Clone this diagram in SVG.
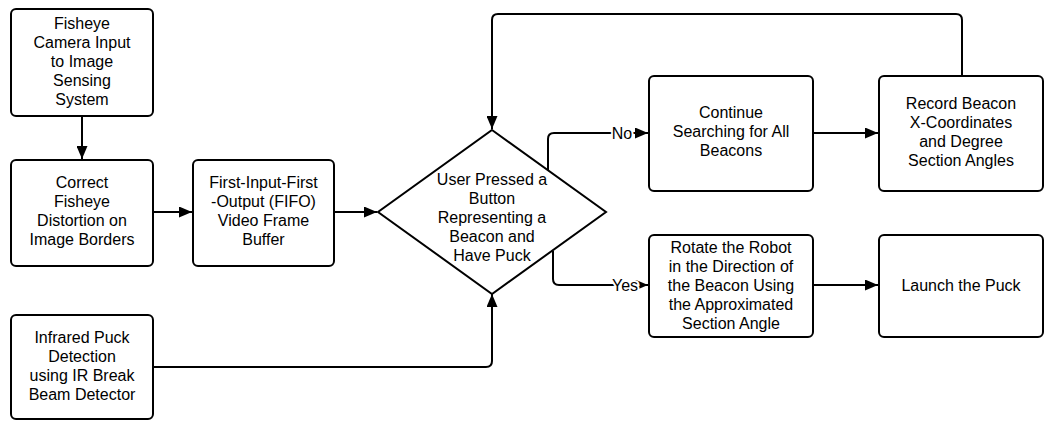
<svg xmlns="http://www.w3.org/2000/svg" width="1045" height="421" viewBox="0 0 1045 421">
<defs>
<marker id="arr" markerUnits="userSpaceOnUse" markerWidth="14" markerHeight="11" refX="13" refY="5.5" orient="auto">
<path d="M0,0 L13,5.5 L0,11 z" fill="#000"/>
</marker>
<style>
.box{fill:#fff;stroke:#000;stroke-width:2}
.t{font-family:"Liberation Sans",Arial,sans-serif;font-size:16px;fill:#000;text-anchor:middle}
.c{fill:none;stroke:#000;stroke-width:2;marker-end:url(#arr)}
.lbl{font-family:"Liberation Sans",Arial,sans-serif;font-size:16px;fill:#000;text-anchor:middle;stroke:#fff;stroke-width:4;paint-order:stroke}
</style>
</defs>
<rect width="1045" height="421" fill="#fff"/>
<g id="connectors">
<path class="c" d="M82,116 V159"/>
<path class="c" d="M153,212 H192"/>
<path class="c" d="M334,212 H377"/>
<path class="c" d="M548,170 V139 Q548,133 554,133 H648"/>
<path class="c" d="M553,251 V279 Q553,285 559,285 H648"/>
<path class="c" d="M813,133 H878"/>
<path class="c" d="M813,285 H878"/>
<path class="c" d="M962,76 V20 Q962,14 956,14 H498 Q492,14 492,20 V129"/>
<path class="c" d="M153,367 H486 Q492,367 492,361 V294"/>
<text class="lbl" x="622" y="139">No</text>
<text class="lbl" x="625" y="291">Yes</text>
</g>
<g id="n1"><rect class="box" x="11" y="9" width="142" height="107" rx="5"/>
<text class="t" x="82" y="28.5">Fisheye</text><text class="t" x="82" y="47.5">Camera Input</text><text class="t" x="82" y="66.5">to Image</text><text class="t" x="82" y="85.5">Sensing</text><text class="t" x="82" y="104.5">System</text></g>
<g id="n2"><rect class="box" x="11" y="160" width="142" height="106" rx="5"/>
<text class="t" x="82" y="187.5">Correct</text><text class="t" x="82" y="206.5">Fisheye</text><text class="t" x="82" y="225.5">Distortion on</text><text class="t" x="82" y="244.5">Image Borders</text></g>
<g id="n3"><rect class="box" x="193" y="160" width="141" height="106" rx="5"/>
<text class="t" x="263.5" y="187.5">First-Input-First</text><text class="t" x="263.5" y="206.5">-Output (FIFO)</text><text class="t" x="263.5" y="225.5">Video Frame</text><text class="t" x="263.5" y="244.5">Buffer</text></g>
<g id="n4"><path class="box" d="M492,130 L606,212 L492,294 L378,212 Z"/>
<text class="t" x="492" y="184.5">User Pressed a</text><text class="t" x="492" y="203.5">Button</text><text class="t" x="492" y="222.5">Representing a</text><text class="t" x="492" y="241.5">Beacon and</text><text class="t" x="492" y="260.5">Have Puck</text></g>
<g id="n5"><rect class="box" x="649" y="76" width="164" height="115" rx="5"/>
<text class="t" x="731" y="117.5">Continue</text><text class="t" x="731" y="136.5">Searching for All</text><text class="t" x="731" y="155.5">Beacons</text></g>
<g id="n6"><rect class="box" x="879" y="76" width="164" height="115" rx="5"/>
<text class="t" x="961" y="108.5">Record Beacon</text><text class="t" x="961" y="127.5">X-Coordinates</text><text class="t" x="961" y="146.5">and Degree</text><text class="t" x="961" y="165.5">Section Angles</text></g>
<g id="n7"><rect class="box" x="649" y="235" width="164" height="102" rx="5"/>
<text class="t" x="731" y="252.5">Rotate the Robot</text><text class="t" x="731" y="271.5">in the Direction of</text><text class="t" x="731" y="290.5">the Beacon Using</text><text class="t" x="731" y="309.5">the Approximated</text><text class="t" x="731" y="328.5">Section Angle</text></g>
<g id="n8"><rect class="box" x="879" y="235" width="164" height="102" rx="5"/>
<text class="t" x="961" y="290.5">Launch the Puck</text></g>
<g id="n9"><rect class="box" x="11" y="315" width="142" height="104" rx="5"/>
<text class="t" x="82" y="342.5">Infrared Puck</text><text class="t" x="82" y="361.5">Detection</text><text class="t" x="82" y="380.5">using IR Break</text><text class="t" x="82" y="399.5">Beam Detector</text></g>
</svg>
